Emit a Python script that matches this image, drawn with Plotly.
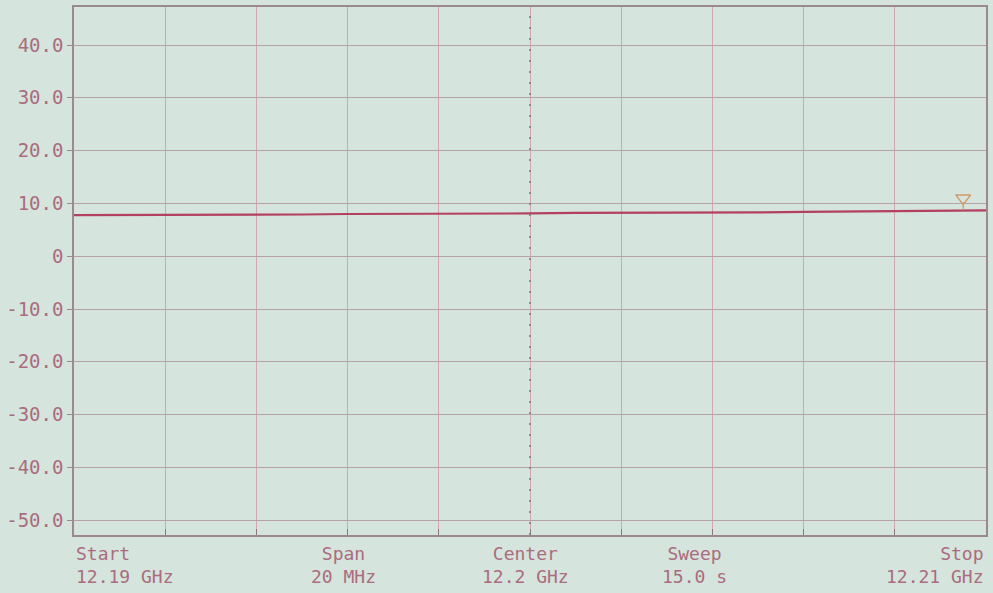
import plotly.graph_objects as go

# trace, one reading per 1 MHz
freq_ghz = [12.190, 12.191, 12.192, 12.193, 12.194, 12.195, 12.196, 12.197,
            12.198, 12.199, 12.200, 12.201, 12.202, 12.203, 12.204, 12.205,
            12.206, 12.207, 12.208, 12.209, 12.210]
level = [7.8, 7.8, 7.8, 7.9, 7.9, 7.9, 8.0, 8.0, 8.0, 8.1, 8.1,
         8.2, 8.2, 8.3, 8.3, 8.3, 8.4, 8.5, 8.6, 8.6, 8.7]

marker_freq = 12.2095
marker_level = 8.7

y_ticks = [40, 30, 20, 10, 0, -10, -20, -30, -40, -50]
y_labels = ["40.0", "30.0", "20.0", "10.0", "0", "-10.0", "-20.0", "-30.0", "-40.0", "-50.0"]
x_grid = [12.190 + i * 0.002 for i in range(11)]

footer_x = [12.190, 12.1959, 12.1999, 12.2036, 12.210]
footer_top = ["Start", "Span", "Center", "Sweep", "Stop"]
footer_bottom = ["12.19 GHz", "20 MHz", "12.2 GHz", "15.0 s", "12.21 GHz"]
footer_anchor = ["left", "center", "center", "center", "right"]

bg = "#d5e4dc"
ink = "#aa6c7e"
font = "DejaVu Sans Mono"

fig = go.Figure()

fig.add_trace(go.Scatter(
    x=freq_ghz, y=level, mode="lines",
    line=dict(color="#b3405e", width=2.2),
    showlegend=False, hoverinfo="skip"
))

# marker: triangle with a short stem down to the trace
fig.add_trace(go.Scatter(
    x=[marker_freq, marker_freq], y=[marker_level, marker_level + 1.5],
    mode="lines", line=dict(color="#d09a6a", width=1.2),
    showlegend=False, hoverinfo="skip"
))
fig.add_trace(go.Scatter(
    x=[marker_freq], y=[marker_level + 2.3], mode="markers",
    marker=dict(symbol="triangle-down-open", size=13, color="#d09a6a",
                line=dict(width=1.5, color="#d09a6a")),
    showlegend=False, hoverinfo="skip"
))

# dotted centre line
fig.add_vline(x=12.200, line=dict(color="#7e7a7c", width=1.6, dash="2px,9px"))

for xv, t, b, a in zip(footer_x, footer_top, footer_bottom, footer_anchor):
    fig.add_annotation(
        x=xv, xref="x", y=0, yref="paper", yanchor="top", yshift=-6,
        xanchor=a, align=a, showarrow=False,
        text=t + "<br>" + b,
        font=dict(family=font, size=18, color=ink)
    )

fig.update_xaxes(
    range=[12.190, 12.210], tickvals=x_grid, showticklabels=False,
    showgrid=True, gridcolor="#cfa6b6", gridwidth=1,
    ticks="inside", ticklen=6, tickcolor="#8a7a80",
    showline=True, linecolor="#9a8a90", linewidth=1.5, mirror=True,
    zeroline=False
)
fig.update_yaxes(
    range=[-52.8, 47.2], tickvals=y_ticks, ticktext=y_labels,
    showgrid=True, gridcolor="#b4a2a8", gridwidth=1,
    ticks="outside", ticklen=5, tickcolor="#9a8a90",
    showline=True, linecolor="#9a8a90", linewidth=1.5, mirror=True,
    zeroline=False,
    tickfont=dict(family=font, size=19, color=ink)
)

fig.update_layout(
    width=993, height=593,
    margin=dict(l=74, r=5, t=5, b=58),
    paper_bgcolor=bg, plot_bgcolor=bg,
)

fig.write_html("out.html", config={"displayModeBar": False},
               post_script="document.body.style.margin='0';")
